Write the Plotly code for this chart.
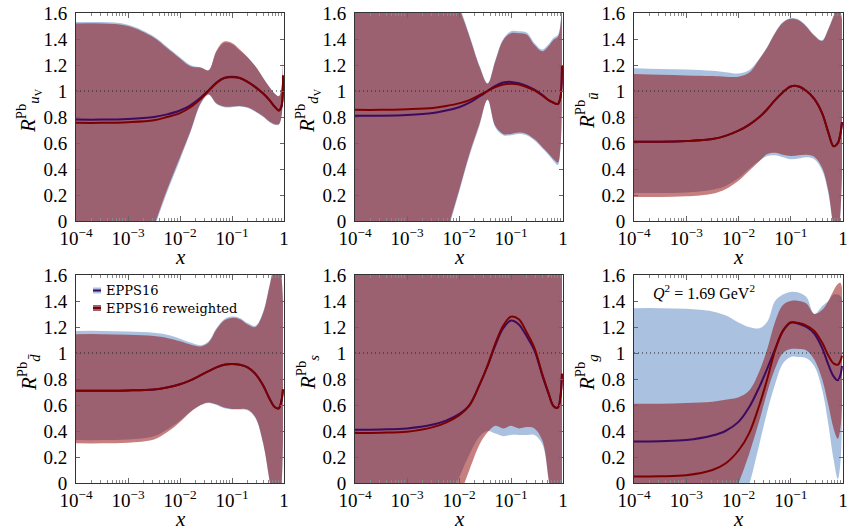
import plotly.graph_objects as go
from plotly.subplots import make_subplots

# ---------------- data ----------------
LOG10_X = [-4, -3.5, -3, -2.5, -2.25, -2, -1.8, -1.6, -1.45, -1.3, -1.15, -1,
           -0.85, -0.7, -0.55, -0.4, -0.28, -0.18, -0.1, -0.05, -0.02]
X = [10 ** v for v in LOG10_X]

X_TICK_VALS = [1e-4, 1e-3, 1e-2, 1e-1, 1]
X_TICK_TEXT = ["10<sup>−4</sup>", "10<sup>−3</sup>", "10<sup>−2</sup>", "10<sup>−1</sup>", "1"]
Y_TICK_VALS = [0, 0.2, 0.4, 0.6, 0.8, 1, 1.2, 1.4, 1.6]
Y_TICK_TEXT = ["0", "0.2", "0.4", "0.6", "0.8", "1", "1.2", "1.4", "1.6"]

PANEL_YLABELS = [
    "<i>R</i><sup>Pb</sup><sub><i>u</i><sub>V</sub></sub>",
    "<i>R</i><sup>Pb</sup><sub><i>d</i><sub>V</sub></sub>",
    "<i>R</i><sup>Pb</sup><sub><i>ū</i></sub>",
    "<i>R</i><sup>Pb</sup><sub><i>d\u0304</i></sub>",
    "<i>R</i><sup>Pb</sup><sub><i>s</i></sub>",
    "<i>R</i><sup>Pb</sup><sub><i>g</i></sub>",
]
SERIES_NAMES = ["EPPS16", "EPPS16 reweighted"]
Q2_LABEL = "<i>Q</i><sup>2</sup> = 1.69 GeV<sup>2</sup>"

# u_V
UV_EPPS_UP = [1.53, 1.53, 1.51, 1.42, 1.34, 1.26, 1.20, 1.18, 1.16, 1.30, 1.37, 1.36, 1.31, 1.26, 1.19, 1.10, 1.03, 0.98, 0.96, 1.02, 1.26]
UV_REW_UP = [1.52, 1.52, 1.50, 1.41, 1.33, 1.25, 1.19, 1.18, 1.16, 1.31, 1.38, 1.37, 1.32, 1.26, 1.19, 1.10, 1.03, 0.98, 0.96, 1.02, 1.26]
UV_EPPS_LO = [-1.8, -1.3, -0.65, -0.06, 0.22, 0.47, 0.68, 0.90, 0.97, 0.90, 0.875, 0.875, 0.88, 0.87, 0.84, 0.80, 0.76, 0.74, 0.74, 0.80, 1.02]
UV_REW_LO = [-1.75, -1.25, -0.6, -0.04, 0.24, 0.49, 0.69, 0.91, 0.975, 0.905, 0.88, 0.88, 0.885, 0.875, 0.845, 0.805, 0.765, 0.745, 0.745, 0.80, 1.02]
UV_EPPS_C = [0.78, 0.78, 0.785, 0.80, 0.82, 0.85, 0.89, 0.95, 1.005, 1.065, 1.10, 1.11, 1.10, 1.07, 1.03, 0.98, 0.93, 0.88, 0.85, 0.88, 1.12]
UV_REW_C = [0.755, 0.755, 0.76, 0.775, 0.80, 0.83, 0.875, 0.94, 1.0, 1.06, 1.10, 1.105, 1.10, 1.07, 1.03, 0.98, 0.93, 0.88, 0.85, 0.88, 1.12]

# d_V
DV_EPPS_UP = [2.6, 2.5, 2.35, 2.05, 1.88, 1.66, 1.43, 1.19, 1.06, 1.24, 1.40, 1.46, 1.46, 1.45, 1.37, 1.32, 1.36, 1.41, 1.43, 1.52, 1.8]
DV_REW_UP = [2.58, 2.48, 2.33, 2.03, 1.86, 1.64, 1.42, 1.18, 1.055, 1.23, 1.39, 1.445, 1.445, 1.435, 1.355, 1.305, 1.345, 1.395, 1.415, 1.5, 1.78]
DV_EPPS_LO = [-2.0, -1.6, -1.1, -0.55, -0.13, 0.22, 0.50, 0.74, 0.93, 0.72, 0.66, 0.66, 0.67, 0.66, 0.62, 0.56, 0.51, 0.46, 0.43, 0.55, 1.0]
DV_REW_LO = [-1.98, -1.58, -1.08, -0.53, -0.11, 0.235, 0.515, 0.755, 0.935, 0.73, 0.67, 0.67, 0.68, 0.67, 0.63, 0.57, 0.52, 0.475, 0.45, 0.56, 1.0]
DV_EPPS_C = [0.81, 0.81, 0.815, 0.83, 0.85, 0.875, 0.91, 0.96, 1.0, 1.04, 1.065, 1.07, 1.06, 1.04, 1.01, 0.97, 0.93, 0.91, 0.90, 0.95, 1.2]
DV_REW_C = [0.855, 0.855, 0.86, 0.87, 0.885, 0.905, 0.93, 0.97, 1.0, 1.03, 1.05, 1.055, 1.05, 1.03, 1.005, 0.965, 0.93, 0.91, 0.90, 0.95, 1.2]

# u-bar
UB_EPPS_UP = [1.175, 1.17, 1.165, 1.155, 1.145, 1.135, 1.16, 1.25, 1.34, 1.45, 1.53, 1.56, 1.55, 1.50, 1.43, 1.39, 1.48, 1.58, 1.66, 1.62, 1.55]
UB_REW_UP = [1.13, 1.125, 1.12, 1.115, 1.11, 1.11, 1.14, 1.245, 1.335, 1.445, 1.525, 1.555, 1.545, 1.495, 1.425, 1.385, 1.475, 1.575, 1.655, 1.615, 1.545]
UB_EPPS_LO = [0.215, 0.215, 0.22, 0.24, 0.27, 0.33, 0.40, 0.465, 0.50, 0.505, 0.49, 0.475, 0.48, 0.49, 0.475, 0.39, 0.21, -0.05, -0.15, 0.05, 0.35]
UB_REW_LO = [0.185, 0.185, 0.19, 0.21, 0.245, 0.31, 0.385, 0.46, 0.515, 0.525, 0.51, 0.50, 0.505, 0.51, 0.495, 0.41, 0.23, -0.04, -0.14, 0.06, 0.36]
UB_EPPS_C = [0.61, 0.61, 0.615, 0.63, 0.655, 0.695, 0.74, 0.80, 0.86, 0.93, 0.99, 1.035, 1.035, 1.0, 0.94, 0.83, 0.68, 0.575, 0.60, 0.67, 0.76]
UB_REW_C = [0.61, 0.61, 0.615, 0.63, 0.655, 0.695, 0.74, 0.80, 0.86, 0.93, 0.99, 1.035, 1.035, 1.0, 0.94, 0.83, 0.68, 0.575, 0.60, 0.67, 0.76]

# d-bar
DB_EPPS_UP = [1.17, 1.17, 1.165, 1.155, 1.14, 1.11, 1.08, 1.06, 1.09, 1.19, 1.26, 1.28, 1.27, 1.23, 1.21, 1.32, 1.52, 1.68, 1.72, 1.6, 1.4]
DB_REW_UP = [1.145, 1.145, 1.14, 1.13, 1.115, 1.09, 1.065, 1.05, 1.08, 1.18, 1.25, 1.27, 1.26, 1.22, 1.20, 1.31, 1.51, 1.67, 1.71, 1.59, 1.39]
DB_EPPS_LO = [0.33, 0.33, 0.335, 0.36, 0.41, 0.48, 0.55, 0.60, 0.615, 0.60, 0.575, 0.565, 0.565, 0.56, 0.50, 0.30, 0.02, -0.2, -0.25, -0.05, 0.3]
DB_REW_LO = [0.305, 0.305, 0.31, 0.335, 0.39, 0.47, 0.545, 0.60, 0.62, 0.605, 0.58, 0.57, 0.57, 0.565, 0.505, 0.305, 0.025, -0.19, -0.24, -0.04, 0.31]
DB_EPPS_C = [0.71, 0.71, 0.712, 0.72, 0.735, 0.76, 0.79, 0.83, 0.86, 0.89, 0.91, 0.915, 0.91, 0.89, 0.84, 0.75, 0.65, 0.585, 0.575, 0.63, 0.72]
DB_REW_C = [0.71, 0.71, 0.712, 0.72, 0.735, 0.76, 0.79, 0.83, 0.86, 0.89, 0.91, 0.915, 0.91, 0.89, 0.84, 0.75, 0.65, 0.585, 0.575, 0.63, 0.72]

# s
S_EPPS_UP = [2.2, 2.2, 2.2, 2.2, 2.2, 2.2, 2.2, 2.2, 2.2, 2.2, 2.2, 2.2, 2.2, 2.0, 1.85, 1.7, 1.585, 1.75, 2.0, 2.2, 2.2]
S_REW_UP = [2.2, 2.2, 2.2, 2.2, 2.2, 2.2, 2.2, 2.2, 2.2, 2.2, 2.2, 2.2, 2.2, 2.2, 2.2, 2.2, 2.2, 2.2, 2.2, 2.2, 2.2]
S_EPPS_LO = [-2.0, -1.5, -1.0, -0.45, -0.2, 0.04, 0.22, 0.36, 0.40, 0.38, 0.36, 0.37, 0.37, 0.37, 0.37, 0.30, 0.03, -0.4, -0.8, -1.0, -1.0]
S_REW_LO = [-2.5, -2.0, -1.5, -0.8, -0.45, -0.12, 0.1, 0.30, 0.39, 0.44, 0.42, 0.44, 0.42, 0.43, 0.42, 0.33, 0.04, -0.35, -0.7, -0.9, -0.9]
S_EPPS_C = [0.41, 0.412, 0.42, 0.45, 0.48, 0.53, 0.60, 0.76, 0.90, 1.06, 1.19, 1.25, 1.22, 1.13, 1.02, 0.83, 0.69, 0.59, 0.58, 0.66, 0.84]
S_REW_C = [0.385, 0.387, 0.395, 0.43, 0.465, 0.52, 0.595, 0.76, 0.905, 1.075, 1.21, 1.28, 1.26, 1.16, 1.04, 0.84, 0.695, 0.59, 0.58, 0.66, 0.84]

# g
G_EPPS_UP = [1.345, 1.345, 1.34, 1.32, 1.29, 1.235, 1.20, 1.19, 1.24, 1.40, 1.45, 1.47, 1.465, 1.43, 1.30, 1.36, 1.40, 1.45, 1.45, 1.44, 1.42]
G_REW_UP = [0.61, 0.61, 0.615, 0.625, 0.64, 0.66, 0.71, 0.86, 1.03, 1.24, 1.37, 1.40, 1.40, 1.38, 1.30, 1.33, 1.40, 1.48, 1.53, 1.54, 1.50]
G_EPPS_LO = [-2.0, -1.6, -1.2, -0.8, -0.5, -0.25, -0.02, 0.30, 0.55, 0.76, 0.92, 0.97, 0.97, 0.96, 0.90, 0.72, 0.45, 0.18, 0.03, 0.15, 0.50]
G_REW_LO = [-1.5, -1.2, -0.85, -0.45, -0.22, 0.0, 0.22, 0.48, 0.70, 0.88, 1.0, 1.03, 1.03, 1.02, 0.95, 0.80, 0.60, 0.42, 0.34, 0.42, 0.60]
G_EPPS_C = [0.32, 0.322, 0.33, 0.365, 0.40, 0.47, 0.58, 0.74, 0.88, 1.03, 1.17, 1.235, 1.225, 1.20, 1.15, 1.04, 0.91, 0.82, 0.79, 0.83, 0.90]
G_REW_C = [0.05, 0.052, 0.06, 0.10, 0.15, 0.25, 0.38, 0.60, 0.80, 1.02, 1.17, 1.235, 1.23, 1.21, 1.17, 1.08, 0.98, 0.92, 0.91, 0.94, 0.98]

PANELS = [
    (UV_EPPS_LO, UV_EPPS_UP, UV_EPPS_C, UV_REW_LO, UV_REW_UP, UV_REW_C),
    (DV_EPPS_LO, DV_EPPS_UP, DV_EPPS_C, DV_REW_LO, DV_REW_UP, DV_REW_C),
    (UB_EPPS_LO, UB_EPPS_UP, UB_EPPS_C, UB_REW_LO, UB_REW_UP, UB_REW_C),
    (DB_EPPS_LO, DB_EPPS_UP, DB_EPPS_C, DB_REW_LO, DB_REW_UP, DB_REW_C),
    (S_EPPS_LO, S_EPPS_UP, S_EPPS_C, S_REW_LO, S_REW_UP, S_REW_C),
    (G_EPPS_LO, G_EPPS_UP, G_EPPS_C, G_REW_LO, G_REW_UP, G_REW_C),
]

# ---------------- style ----------------
W, H = 858, 532
BLUE_FILL = "rgb(170,194,224)"
RED_FILL = "rgba(140,0,0,0.5)"
BLUE_LINE = "rgb(60,10,95)"
RED_LINE = "rgb(125,0,0)"
SERIF = "Liberation Serif, Times New Roman, serif"
LEGEND_FONT = "DejaVu Serif, serif"

COL_PX = [(76, 284), (355, 563), (634, 843)]
ROW_PX = [(13, 221), (275, 483)]

fig = make_subplots(rows=2, cols=3)

for i, (elo, eup, ec, rlo, rup, rc) in enumerate(PANELS):
    r, c = i // 3 + 1, i % 3 + 1
    common = dict(x=X, mode="lines", line_shape="spline", showlegend=False, hoverinfo="skip")
    fig.add_trace(go.Scatter(y=elo, line=dict(width=0, color=BLUE_FILL), **common), row=r, col=c)
    fig.add_trace(go.Scatter(y=eup, line=dict(width=0, color=BLUE_FILL), fill="tonexty",
                             fillcolor=BLUE_FILL, **common), row=r, col=c)
    fig.add_trace(go.Scatter(y=rlo, line=dict(width=0, color=RED_FILL), **common), row=r, col=c)
    fig.add_trace(go.Scatter(y=rup, line=dict(width=0, color=RED_FILL), fill="tonexty",
                             fillcolor=RED_FILL, **common), row=r, col=c)
    fig.add_trace(go.Scatter(x=[X_TICK_VALS[0], X_TICK_VALS[-1]], y=[1, 1], mode="lines",
                             line=dict(color="#222", width=1, dash="1px,3px"),
                             showlegend=False, hoverinfo="skip"), row=r, col=c)
    fig.add_trace(go.Scatter(y=ec, line=dict(width=2, color=BLUE_LINE), **common), row=r, col=c)
    fig.add_trace(go.Scatter(y=rc, line=dict(width=2, color=RED_LINE), **common), row=r, col=c)

minor_vals = [k * 10 ** e for e in range(-4, 0) for k in range(2, 10)]

for i in range(6):
    r, c = i // 3, i % 3
    x0, x1 = COL_PX[c]
    y0, y1 = ROW_PX[r]
    xa = "xaxis" if i == 0 else f"xaxis{i+1}"
    ya = "yaxis" if i == 0 else f"yaxis{i+1}"
    fig.layout[xa].update(
        type="log", range=[-4, 0], domain=[x0 / W, x1 / W], automargin=False,
        tickmode="array", tickvals=X_TICK_VALS, ticktext=X_TICK_TEXT,
        ticks="inside", ticklen=5, tickwidth=0.8, tickcolor="#666",
        showline=True, linecolor="#333", linewidth=1, mirror="allticks",
        showgrid=False, zeroline=False,
        tickfont=dict(family=SERIF, size=19, color="black"),
        minor=dict(tickmode="array", tickvals=minor_vals, ticks="inside", ticklen=3,
                   tickwidth=0.6, tickcolor="#888", showgrid=False),
    )
    fig.layout[ya].update(
        range=[0, 1.6], domain=[1 - y1 / H, 1 - y0 / H], automargin=False,
        tickmode="array", tickvals=Y_TICK_VALS, ticktext=Y_TICK_TEXT,
        ticks="inside", ticklen=4, tickwidth=0.8, tickcolor="#666",
        showline=True, linecolor="#333", linewidth=1, mirror="allticks",
        showgrid=False, zeroline=False, ticklabelstandoff=4,
        tickfont=dict(family=SERIF, size=19, color="black"),
    )
    fig.add_annotation(x=(x0 + x1) / 2 / W, y=1 - (y1 + 36) / H, xref="paper", yref="paper",
                       text="<i>x</i>", showarrow=False, font=dict(family=SERIF, size=21, color="black"),
                       xanchor="center", yanchor="middle")
    fig.add_annotation(x=(x0 - 48) / W, y=1 - (y0 + 98) / H, xref="paper", yref="paper",
                       text=PANEL_YLABELS[i], textangle=-90, showarrow=False,
                       font=dict(family=SERIF, size=21, color="black"),
                       xanchor="center", yanchor="middle")

# legend (panel 4)
for k, (fc, lc) in enumerate([(BLUE_FILL, BLUE_LINE), ("rgb(157,97,112)", RED_LINE)]):
    yc = 290.5 + k * 17.5
    fig.add_shape(type="rect", xref="paper", yref="paper",
                  x0=93 / W, x1=101 / W, y0=1 - (yc - 3) / H, y1=1 - (yc + 3) / H,
                  fillcolor=fc, line=dict(width=0))
    fig.add_shape(type="line", xref="paper", yref="paper",
                  x0=93 / W, x1=101 / W, y0=1 - yc / H, y1=1 - yc / H,
                  line=dict(color=lc, width=2))
    fig.add_annotation(x=104 / W, y=1 - yc / H, xref="paper", yref="paper",
                       text=SERIES_NAMES[k], showarrow=False, xanchor="left", yanchor="middle",
                       font=dict(family=LEGEND_FONT, size=13, color="black"))

fig.add_annotation(x=651 / W, y=1 - 292 / H, xref="paper", yref="paper", text=Q2_LABEL,
                   showarrow=False, xanchor="left", yanchor="middle",
                   font=dict(family=SERIF, size=16, color="black"))

fig.update_layout(width=W, height=H, margin=dict(l=0, r=0, t=0, b=0, autoexpand=False),
                  paper_bgcolor="white", plot_bgcolor="white", showlegend=False,
                  font=dict(family=SERIF))

fig.write_html("out.html")
